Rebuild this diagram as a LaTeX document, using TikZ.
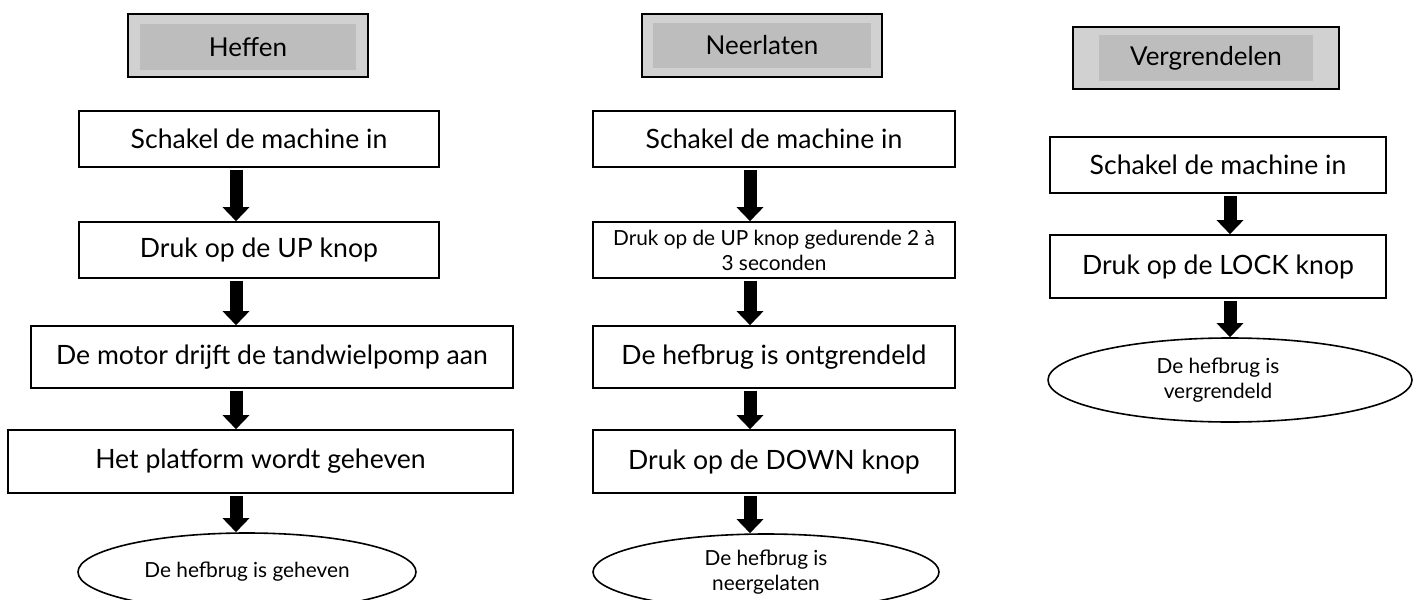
\documentclass[tikz,border=0pt]{standalone}
\usepackage{fontspec}
\setmainfont{Lato}
\usetikzlibrary{arrows.meta,shapes.geometric}
\begin{document}
\begin{tikzpicture}[x=0.5pt,y=-0.5pt,
  box/.style={draw=black,line width=0.8pt,fill=white,inner sep=0pt,font=\fontsize{13.3}{16}\selectfont},
  smallbox/.style={box,align=center,font=\fontsize{10.4}{12.5}\selectfont},
  endell/.style={draw=black,line width=0.8pt,fill=white,ellipse,inner sep=0pt,align=center,font=\fontsize{10.4}{12.5}\selectfont},
  headouter/.style={draw=black,line width=1pt,fill=black!18,inner sep=0pt},
  headinner/.style={fill=black!26,inner sep=0pt,font=\fontsize{13}{16}\selectfont},
  flowarrow/.style={line width=6.5pt,-{Triangle[length=7pt,width=13pt]},shorten <=1pt}
]
\useasboundingbox (0,0) rectangle (1417,599);
\clip (0,0) rectangle (1417,599);
\fill[white] (0,0) rectangle (1417,599);

% ---------- Column 1: Heffen ----------
\node[headouter,minimum width=120pt,minimum height=31.5pt] (h1o) at (248,45.5) {};
\node[headinner,minimum width=108pt,minimum height=23pt] (h1) at (248,47) {Heffen};
\node[box,minimum width=180pt,minimum height=28pt] (a1) at (259,139) {Schakel de machine in};
\node[box,minimum width=180pt,minimum height=28pt] (a2) at (259,250) {Druk op de UP knop};
\node[box,minimum width=241pt,minimum height=31pt] (a3) at (272,357) {De motor drijft de tandwielpomp aan};
\node[box,minimum width=252.5pt,minimum height=31.5pt] (a4) at (260.5,461.5) {Het platform wordt geheven};
\node[endell,minimum width=169pt,minimum height=39pt] (a5) at (247,572) {De hefbrug is geheven};
\coordinate (ax) at (236,0);
\draw[flowarrow] (a1.south -| ax) -- (a2.north -| ax);
\draw[flowarrow] (a2.south -| ax) -- (a3.north -| ax);
\draw[flowarrow] (a3.south -| ax) -- (a4.north -| ax);
\draw[flowarrow] (a4.south -| ax) -- (a5.north -| ax);

% ---------- Column 2: Neerlaten ----------
\node[headouter,minimum width=120pt,minimum height=31.5pt] (h2o) at (762,45.5) {};
\node[headinner,minimum width=109pt,minimum height=22.5pt] (h2) at (762,45.5) {Neerlaten};
\node[box,minimum width=181pt,minimum height=28pt] (b1) at (774,139) {Schakel de machine in};
\node[smallbox,minimum width=181pt,minimum height=28pt] (b2) at (774,250) {Druk op de UP knop gedurende 2 à\\3 seconden};
\node[box,minimum width=181pt,minimum height=31pt] (b3) at (774,357) {De hefbrug is ontgrendeld};
\node[box,minimum width=181pt,minimum height=31.5pt] (b4) at (774,461.5) {Druk op de DOWN knop};
\node[endell,minimum width=173pt,minimum height=38pt] (b5) at (766,572) {De hefbrug is\\neergelaten};
\coordinate (bx) at (750,0);
\draw[flowarrow] (b1.south -| bx) -- (b2.north -| bx);
\draw[flowarrow] (b2.south -| bx) -- (b3.north -| bx);
\draw[flowarrow] (b3.south -| bx) -- (b4.north -| bx);
\draw[flowarrow] (b4.south -| bx) -- (b5.north -| bx);

% ---------- Column 3: Vergrendelen ----------
\node[headouter,minimum width=133pt,minimum height=31pt] (h3o) at (1206,58) {};
\node[headinner,minimum width=107pt,minimum height=23pt] (h3) at (1206,58) {Vergrendelen};
\node[box,minimum width=168pt,minimum height=28pt] (c1) at (1218,165) {Schakel de machine in};
\node[box,minimum width=168pt,minimum height=31.5pt] (c2) at (1218,266.5) {Druk op de LOCK knop};
\node[endell,minimum width=182pt,minimum height=42pt] (c3) at (1230,380) {De hefbrug is\hspace*{12pt}\\vergrendeld\hspace*{12pt}};
\coordinate (cx) at (1230,0);
\draw[flowarrow] (c1.south -| cx) -- (c2.north -| cx);
\draw[flowarrow] (c2.south -| cx) -- (c3.north -| cx);
\end{tikzpicture}
\end{document}
